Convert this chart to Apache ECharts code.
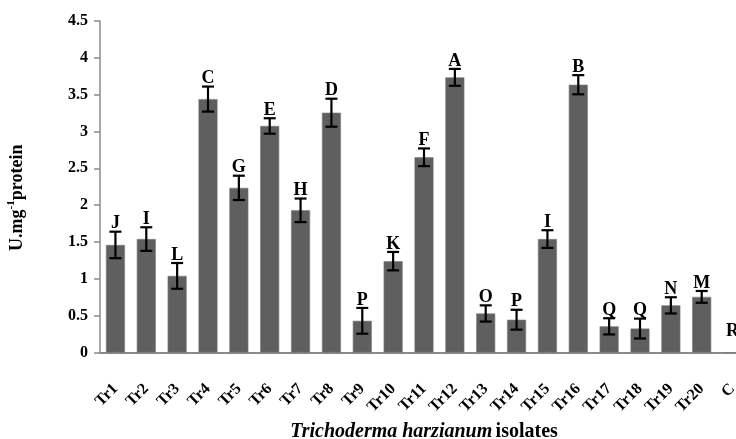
<!DOCTYPE html>
<html>
<head>
<meta charset="utf-8">
<script src="https://cdn.jsdelivr.net/npm/echarts@6/dist/echarts.min.js"></script>
<style>
html,body{margin:0;padding:0;background:#fff;}
#chart{width:736px;height:439px;}
</style>
</head>
<body>
<div id="chart"></div>
<script>
const categories = ['Tr1','Tr2','Tr3','Tr4','Tr5','Tr6','Tr7','Tr8','Tr9','Tr10','Tr11','Tr12','Tr13','Tr14','Tr15','Tr16','Tr17','Tr18','Tr19','Tr20','C'];
const means = [1.46,1.54,1.04,3.44,2.235,3.075,1.93,3.255,0.43,1.24,2.65,3.735,0.53,0.445,1.54,3.635,0.355,0.325,0.64,0.755,0];
const errors = [0.18,0.16,0.175,0.17,0.165,0.105,0.16,0.19,0.175,0.125,0.12,0.115,0.11,0.135,0.12,0.13,0.11,0.135,0.11,0.08,0];
const letters = ['J','I','L','C','G','E','H','D','P','K','F','A','O','P','I','B','Q','Q','N','M','R'];
const yTicks = {min:0, max:4.5, interval:0.5};

const SERIF = '"Liberation Serif", "Times New Roman", serif';
const chart = echarts.init(document.getElementById('chart'), null, {renderer:'canvas'});

const errData = categories.map((c,i)=>[i, means[i], errors[i]]);

const option = {
  animation:false,
  backgroundColor:'#fff',
  grid:{left:100, top:21, width:648, height:331.5, containLabel:false, outerBoundsMode:'none'},
  xAxis:{
    type:'category',
    data:categories,
    axisTick:{show:false},
    axisLine:{show:true, lineStyle:{color:'#8a8a8a', width:2}},
    axisLabel:{interval:0, rotate:45, margin:34, color:'#000', fontFamily:SERIF, fontWeight:'bold', fontSize:16},
    name:'{i|Trichoderma harzianum} {b|isolates}',
    nameLocation:'middle',
    nameGap:66,
    nameTextStyle:{
      rich:{
        i:{fontFamily:SERIF, fontWeight:'bold', fontStyle:'italic', fontSize:20, color:'#000'},
        b:{fontFamily:SERIF, fontWeight:'bold', fontSize:20, color:'#000'}
      }
    }
  },
  yAxis:{
    type:'value',
    min:yTicks.min, max:yTicks.max, interval:yTicks.interval,
    splitLine:{show:false},
    axisLine:{show:true, lineStyle:{color:'#8a8a8a', width:1.5}},
    axisTick:{show:true, inside:false, length:6, lineStyle:{color:'#8a8a8a', width:1.5}},
    axisLabel:{color:'#000', fontFamily:SERIF, fontWeight:'bold', fontSize:16, margin:12},
    name:'{a|U.mg}{s|-1}{a|protein}',
    nameLocation:'middle',
    nameRotate:90,
    nameGap:72,
    nameTextStyle:{
      padding:[0,22,0,0],
      rich:{
        a:{fontFamily:SERIF, fontWeight:'bold', fontSize:18, color:'#000', lineHeight:22},
        s:{fontFamily:SERIF, fontWeight:'bold', fontSize:11, color:'#000', verticalAlign:'top', lineHeight:22}
      }
    }
  },
  series:[
    {
      type:'bar',
      data:means,
      barWidth:19,
      itemStyle:{color:'#5f5f5f', borderColor:'#7c7c7c', borderWidth:0.6},
      z:2
    },
    {
      type:'custom',
      data:errData,
      z:5,
      renderItem:function(params, api){
        const i = api.value(0), m = api.value(1), e = api.value(2);
        const hi = api.coord([i, m+e]);
        const lo = api.coord([i, m-e]);
        const zero = api.coord([i, 0]);
        const cap = 6;
        const children = [];
        if (e > 0) {
          const ls = {stroke:'#000', lineWidth:2.2};
          children.push({type:'line', shape:{x1:hi[0], y1:hi[1], x2:lo[0], y2:lo[1]}, style:ls});
          children.push({type:'line', shape:{x1:hi[0]-cap, y1:hi[1], x2:hi[0]+cap, y2:hi[1]}, style:ls});
          children.push({type:'line', shape:{x1:lo[0]-cap, y1:lo[1], x2:lo[0]+cap, y2:lo[1]}, style:ls});
        }
        const base = Math.min(hi[1]-2, zero[1]-15);
        children.push({
          type:'text',
          style:{
            text:letters[params.dataIndex],
            x:hi[0], y:base + 3,
            align:'center', verticalAlign:'bottom',
            textAlign:'center', textVerticalAlign:'bottom',
            font:'bold 18px ' + SERIF,
            fill:'#000'
          }
        });
        return {type:'group', children:children};
      }
    }
  ]
};
chart.setOption(option);
</script>
</body>
</html>
